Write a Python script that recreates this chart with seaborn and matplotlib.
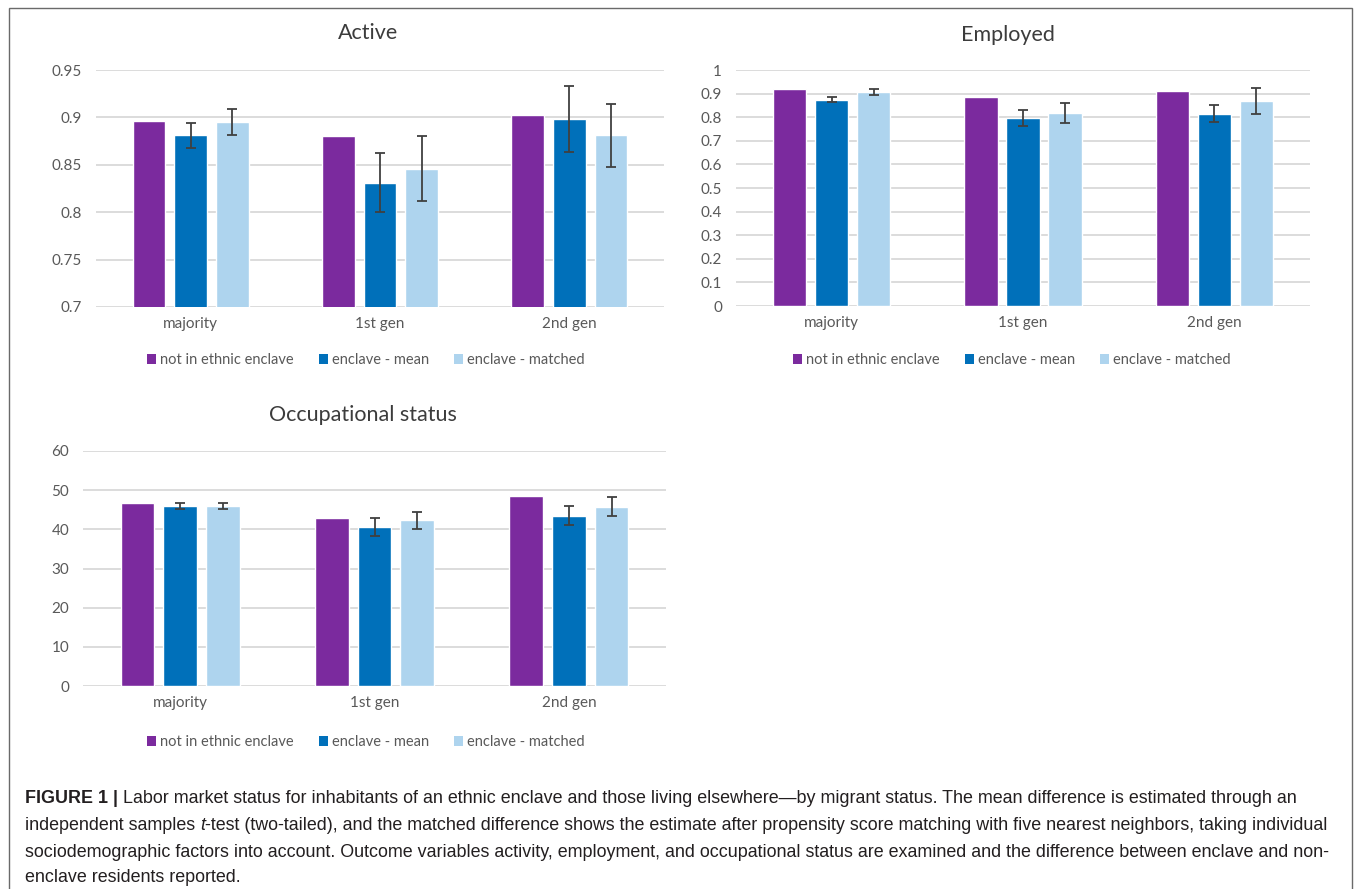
import numpy as np
import pandas as pd
import matplotlib
matplotlib.use("Agg")
import matplotlib.pyplot as plt
import seaborn as sns
from matplotlib.patches import Rectangle, Patch

# ---------------- data ----------------
groups = ["majority", "1st gen", "2nd gen"]
series = ["not in ethnic enclave", "enclave - mean", "enclave - matched"]
colors = ["#7B2A9E", "#0070BA", "#AED4EE"]

active_not = [0.896, 0.880, 0.903]
active_mean = [0.881, 0.831, 0.898]
active_matched = [0.895, 0.846, 0.881]
active_mean_err = [0.013, 0.031, 0.035]
active_matched_err = [0.014, 0.034, 0.033]

employed_not = [0.920, 0.886, 0.912]
employed_mean = [0.875, 0.797, 0.815]
employed_matched = [0.905, 0.818, 0.868]
employed_mean_err = [0.011, 0.034, 0.036]
employed_matched_err = [0.013, 0.042, 0.056]

occ_not = [46.7, 43.0, 48.4]
occ_mean = [46.0, 40.6, 43.5]
occ_matched = [46.0, 42.3, 45.8]
occ_mean_err = [0.85, 2.3, 2.5]
occ_matched_err = [0.85, 2.2, 2.5]

active_ticks = [0.7, 0.75, 0.8, 0.85, 0.9, 0.95]
employed_ticks = [0, 0.1, 0.2, 0.3, 0.4, 0.5, 0.6, 0.7, 0.8, 0.9, 1]
occ_ticks = [0, 10, 20, 30, 40, 50, 60]

caption_lines = [
    [("FIGURE 1 |", "bold"), (" Labor market status for inhabitants of an ethnic enclave and those living elsewhere\u2014by migrant status. The mean difference is estimated through an", "normal")],
    [("independent samples ", "normal"), ("t", "italic"), ("-test (two-tailed), and the matched difference shows the estimate after propensity score matching with five nearest neighbors, taking individual", "normal")],
    [("sociodemographic factors into account. Outcome variables activity, employment, and occupational status are examined and the difference between enclave and non-", "normal")],
    [("enclave residents reported.", "normal")],
]

# ---------------- layout helpers ----------------
W, H = 1355, 889
sns.set_theme(style="white")
plt.rcParams["font.family"] = ["Lato", "DejaVu Sans"]

fig = plt.figure(figsize=(W / 100, H / 100), dpi=100)
fig.patch.set_facecolor("white")


def fx(px):
    return px / W


def fy(py):
    return 1 - py / H


TXT = "#595959"


def panel(rect, values, errs, ylim, ticks, title, title_xy, legend_xy):
    l, t, r, b = rect
    ax = fig.add_axes([fx(l), fy(b), (r - l) / W, (b - t) / H])
    rows = []
    for s, vals in zip(series, values):
        for g, v in zip(groups, vals):
            rows.append({"group": g, "series": s, "value": v})
    df = pd.DataFrame(rows)
    sns.barplot(data=df, x="group", y="value", hue="series", order=groups,
                hue_order=series, palette=colors, saturation=1, width=0.66,
                gap=0.21, errorbar=None, legend=False, ax=ax)
    for cont, e in zip(ax.containers[1:], errs):
        for bar, ev in zip(cont, e):
            xc = bar.get_x() + bar.get_width() / 2
            ax.errorbar(xc, bar.get_height(), yerr=ev, fmt="none",
                        ecolor="#404040", elinewidth=1.3, capsize=3.6,
                        capthick=1.3, zorder=5)
    ax.set_ylim(*ylim)
    ax.set_xlim(-0.5, 2.5)
    ax.set_yticks(ticks)
    ax.set_yticklabels([f"{v:g}" for v in ticks])
    ax.set_xlabel("")
    ax.set_ylabel("")
    for sp in ax.spines.values():
        sp.set_visible(False)
    ax.yaxis.grid(True, color="#D9D9D9", lw=1.3)
    ax.set_axisbelow(True)
    ax.tick_params(axis="y", length=0, pad=10, labelsize=11, labelcolor=TXT)
    ax.tick_params(axis="x", length=0, pad=7, labelsize=11, labelcolor=TXT)
    fig.text(fx(title_xy[0]), fy(title_xy[1]), title, ha="center", va="center",
             fontsize=15.5, color="#3C3C3C")
    handles = [Patch(facecolor=c, edgecolor="none") for c in colors]
    fig.legend(handles, series, loc="center",
               bbox_to_anchor=(fx(legend_xy[0]), fy(legend_xy[1])),
               bbox_transform=fig.transFigure, ncol=3, frameon=False,
               handlelength=0.62, handleheight=0.62, handletextpad=0.28,
               columnspacing=1.7, fontsize=10.5, labelcolor=TXT)
    return ax


panel((96, 70, 664, 307),
      [active_not, active_mean, active_matched],
      [active_mean_err, active_matched_err],
      (0.7, 0.95), active_ticks, "Active", (368, 33), (366, 360))
panel((736, 70, 1310, 306),
      [employed_not, employed_mean, employed_matched],
      [employed_mean_err, employed_matched_err],
      (0, 1), employed_ticks, "Employed", (1008, 35), (1012, 360))
panel((83, 451, 666, 686),
      [occ_not, occ_mean, occ_matched],
      [occ_mean_err, occ_matched_err],
      (0, 60), occ_ticks, "Occupational status", (363, 415), (366, 742))

# ---------------- frame ----------------
fig.add_artist(Rectangle((fx(9), fy(900)), (1352 - 9) / W, (900 - 8) / H,
                         transform=fig.transFigure, fill=False,
                         ec="#6A6A6A", lw=1.0))

# ---------------- caption ----------------
renderer = fig.canvas.get_renderer()
CAP_FONT = ["Liberation Sans", "DejaVu Sans"]
CAP_COLOR = "#231F20"


def text_width(s, fs, weight="normal", style="normal"):
    t = fig.text(0, 0, s, fontsize=fs, family=CAP_FONT, fontweight=weight,
                 fontstyle=style)
    w = t.get_window_extent(renderer).width
    t.remove()
    return w


def piece_width(s, fs, kind):
    weight = "bold" if kind == "bold" else "normal"
    style = "italic" if kind == "italic" else "normal"
    core = s.strip(" ")
    lead = len(s) - len(s.lstrip(" "))
    trail = len(s) - len(s.rstrip(" "))
    sp = text_width("x x", fs) - text_width("xx", fs)
    return text_width(core, fs, weight, style), lead * sp, trail * sp


# choose size so that line 2 spans the measured width
base = 12.0
target = 1332 - 25
tot = 0
for s, k in caption_lines[1]:
    w, a, b = piece_width(s, base, k)
    tot += w + a + b
fs = base * target / tot

line_baseline = [803, 830, 857, 882]
for line, ypx in zip(caption_lines, line_baseline):
    x = 25.0
    for s, k in line:
        w, a, b = piece_width(s, fs, k)
        x += a
        fig.text(fx(x), fy(ypx), s.strip(" "), fontsize=fs, family=CAP_FONT,
                 fontweight="bold" if k == "bold" else "normal",
                 fontstyle="italic" if k == "italic" else "normal",
                 color=CAP_COLOR, ha="left", va="baseline")
        x += w + b

fig.savefig("out.png", dpi=100, facecolor="white")
